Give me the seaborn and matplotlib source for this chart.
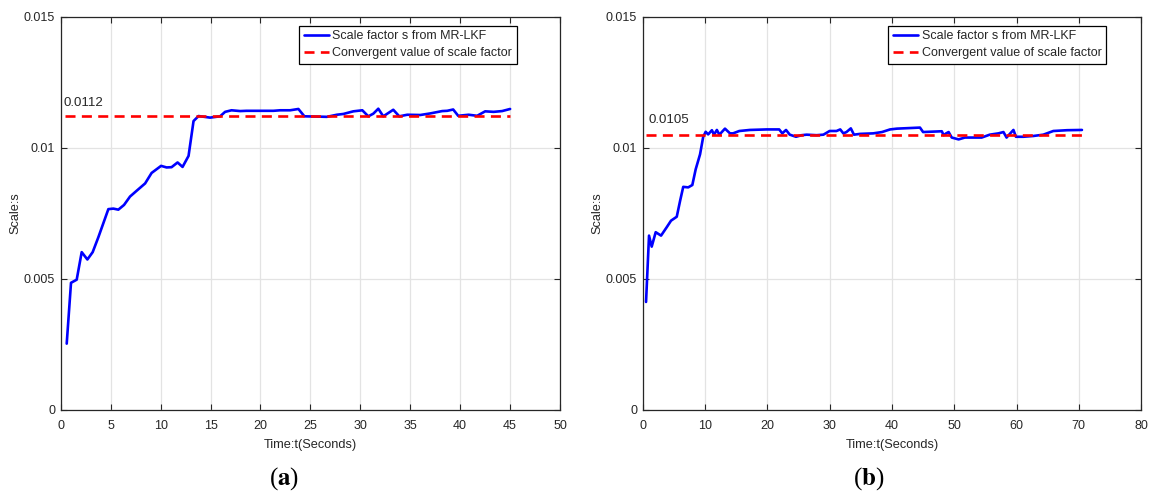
import numpy as np
import pandas as pd
import matplotlib
matplotlib.use("Agg")
import matplotlib.pyplot as plt
import seaborn as sns

# ---------------- data ----------------
time_a = [0.6, 1.03, 1.6, 2.1, 2.67, 3.2, 3.77, 4.77, 5.27, 5.77, 6.34, 6.94, 7.6, 8.45,
          9.1, 10.05, 10.6, 11.1, 11.7, 12.2, 12.8, 13.3, 13.8, 14.96, 15.96, 16.46, 17.1,
          17.97, 18.6, 21.3, 21.97, 22.97, 23.8, 24.4, 25.65, 26.65, 27.65, 28.3, 29.3,
          30.2, 30.8, 31.3, 31.8, 32.3, 33.3, 33.9, 34.7, 36.0, 37.0, 38.2, 38.7, 39.3,
          39.8, 40.85, 41.7, 42.5, 43.35, 44.2, 45.0]
scale_a = [0.00253, 0.00485, 0.00497, 0.00602, 0.00574, 0.00602, 0.00659, 0.00766, 0.00768,
           0.00764, 0.00782, 0.00814, 0.00836, 0.00864, 0.00904, 0.00931, 0.00925, 0.00926,
           0.00944, 0.00927, 0.00969, 0.01102, 0.01121, 0.01115, 0.0112, 0.01137, 0.01143,
           0.0114, 0.01141, 0.01141, 0.01143, 0.01143, 0.01148, 0.0112, 0.01119, 0.01118,
           0.01126, 0.01129, 0.01139, 0.01143, 0.0112, 0.0113, 0.01149, 0.0112, 0.01145,
           0.0112, 0.01126, 0.01125, 0.01131, 0.0114, 0.01141, 0.01146, 0.01122, 0.01126,
           0.01122, 0.01139, 0.01137, 0.0114, 0.01148]

time_b = [0.53, 1.01, 1.44, 2.08, 2.94, 3.85, 4.54, 5.46, 6.0, 6.5, 7.3, 7.96, 8.5, 9.2,
          9.7, 10.1, 10.5, 11.1, 11.44, 11.9, 12.3, 13.2, 14.0, 14.5, 15.5, 17.2, 19.9,
          21.9, 22.4, 23.0, 23.6, 24.6, 25.5, 26.3, 27.9, 29.0, 30.0, 31.1, 31.7, 32.2,
          32.7, 33.4, 33.9, 34.9, 37.0, 38.4, 39.7, 40.8, 44.5, 45.0, 48.0, 48.3, 48.7,
          49.1, 49.6, 50.7, 51.7, 52.5, 54.4, 55.7, 57.1, 57.9, 58.4, 59.0, 59.5, 59.9,
          61.1, 62.7, 64.3, 65.9, 68.1, 70.5]
scale_b = [0.00412, 0.00665, 0.00623, 0.00678, 0.00665, 0.00697, 0.00722, 0.00737, 0.00798,
           0.00851, 0.00849, 0.00858, 0.00918, 0.00975, 0.01041, 0.01061, 0.01051, 0.01067,
           0.0105, 0.01068, 0.0105, 0.01073, 0.01055, 0.01055, 0.01064, 0.01068, 0.0107,
           0.0107, 0.01055, 0.01068, 0.0105, 0.01042, 0.01048, 0.0105, 0.01048, 0.0105,
           0.01064, 0.01064, 0.0107, 0.01055, 0.0106, 0.01074, 0.0105, 0.01053, 0.01055,
           0.0106, 0.0107, 0.01073, 0.01077, 0.0106, 0.01063, 0.01048, 0.01055, 0.0106,
           0.01039, 0.01032, 0.01039, 0.01039, 0.01039, 0.0105, 0.01055, 0.0106, 0.01039,
           0.01055, 0.01068, 0.01042, 0.01042, 0.01045, 0.0105, 0.01064, 0.01067, 0.01068]

conv_a = 0.0112
conv_b = 0.0105
conv_span_a = [0.43, 45.0]
conv_span_b = [0.5, 70.5]

xticks_a = [0, 5, 10, 15, 20, 25, 30, 35, 40, 45, 50]
xticks_b = [0, 10, 20, 30, 40, 50, 60, 70, 80]
yticks = [0, 0.005, 0.01, 0.015]
ytick_labels = ["0", "0.005", "0.01", "0.015"]

series_label = "Scale factor s from MR-LKF"
conv_label = "Convergent value of scale factor"
panel_labels = ["a", "b"]

# ---------------- style ----------------
sns.set_theme(style="whitegrid")
plt.rcParams["font.family"] = ["Liberation Sans", "DejaVu Sans"]
plt.rcParams["mathtext.fontset"] = "stix"

fig = plt.figure(figsize=(11.5, 4.92), dpi=100)
fig.patch.set_facecolor("white")

axes_pos = [[0.0528, 0.1667, 0.4342, 0.7994],
            [0.5589, 0.1667, 0.4334, 0.7994]]
legend_anchor = [(0.913, 0.976), (0.929, 0.976)]
panel_label_x = [0.247, 0.7557]

panels = [
    (time_a, scale_a, conv_a, conv_span_a, xticks_a, (0.3, 0.0117)),
    (time_b, scale_b, conv_b, conv_span_b, xticks_b, (0.9, 0.01106)),
]

for i, (t, s, cv, span, xt, txtpos) in enumerate(panels):
    ax = fig.add_axes(axes_pos[i])
    df = pd.DataFrame({"t": t, "s": s})
    sns.lineplot(data=df, x="t", y="s", ax=ax, color=(0, 0, 1), linewidth=1.9,
                 sort=False, estimator=None, label=series_label)
    dfc = pd.DataFrame({"t": span, "s": [cv, cv]})
    sns.lineplot(data=dfc, x="t", y="s", ax=ax, color=(1, 0, 0), linewidth=1.9,
                 linestyle=(0, (3.8, 2.4)), estimator=None, label=conv_label)
    ax.text(txtpos[0], txtpos[1], f"{cv:g}", fontsize=9.5, ha="left", va="center",
            color="#262626")

    ax.set_xlim(xt[0], xt[-1])
    ax.set_ylim(0, 0.015)
    ax.set_xticks(xt)
    ax.set_xticklabels([str(v) for v in xt])
    ax.set_yticks(yticks)
    ax.set_yticklabels(ytick_labels)
    ax.set_xlabel("Time:t(Seconds)", fontsize=9.2, color="#262626", labelpad=5)
    ax.set_ylabel("Scale:s", fontsize=9.2, color="#262626", labelpad=1.5)
    ax.set_facecolor("white")
    ax.grid(True, color="#e3e3e3", linewidth=0.9)
    for sp in ax.spines.values():
        sp.set_visible(True)
        sp.set_color("#262626")
        sp.set_linewidth(0.9)
    ax.tick_params(axis="x", pad=7)
    ax.tick_params(axis="y", pad=4)
    ax.tick_params(axis="both", which="major", direction="in", length=4, width=0.8,
                   colors="#262626", labelsize=9, top=True, right=True,
                   bottom=True, left=True)

    leg = ax.legend(loc="upper right", bbox_to_anchor=legend_anchor[i], fontsize=9,
                    frameon=True, fancybox=False, borderaxespad=0, handlelength=2.0,
                    handletextpad=0.3, borderpad=0.35, labelspacing=0.4)
    leg.get_frame().set_edgecolor("black")
    leg.get_frame().set_linewidth(0.9)
    leg.get_frame().set_alpha(1)

    fig.text(panel_label_x[i], 0.028,
             rf"($\mathbf{{{panel_labels[i]}}}$)", fontsize=18, ha="center",
             va="center", family="Liberation Serif", color="black")

fig.savefig("out.png", dpi=100, facecolor="white")
